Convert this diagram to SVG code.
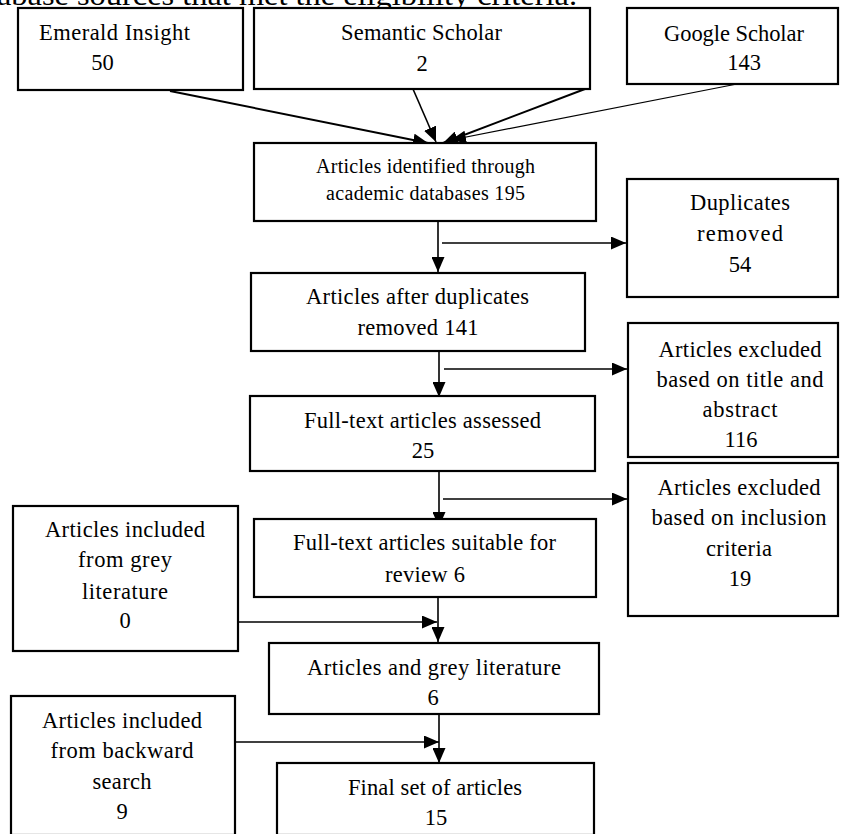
<svg xmlns="http://www.w3.org/2000/svg" width="841" height="834" viewBox="0 0 841 834">
<defs>
<style>
.box{fill:#fff;stroke:#000;stroke-width:2.2}
text{font-family:"Liberation Serif","Times New Roman",serif;fill:#000;font-size:22.5px}
.c{text-anchor:middle}
.sm{font-size:20px}
.ln{fill:none;stroke:#000;stroke-width:1.6}
</style>
<marker id="ah" markerUnits="userSpaceOnUse" markerWidth="15" markerHeight="13" refX="15" refY="6.5" orient="auto">
<path d="M0,0 L15,6.5 L0,13 z" fill="#000"/>
</marker>
</defs>
<rect width="841" height="834" fill="#fff"/>
<text x="-3" y="5" style="font-size:30px" textLength="580" lengthAdjust="spacingAndGlyphs">abase sources that met the eligibility criteria.</text>

<g id="connectors">
<line class="ln" x1="170" y1="91" x2="428" y2="143" style="stroke-width:2" marker-end="url(#ah)"/>
<line class="ln" x1="413" y1="89" x2="436" y2="142" marker-end="url(#ah)"/>
<line class="ln" x1="585" y1="89" x2="443" y2="143" style="stroke-width:2" marker-end="url(#ah)"/>
<line class="ln" x1="737" y1="84" x2="451" y2="140" style="stroke-width:1.2" marker-end="url(#ah)"/>
<line class="ln" x1="438" y1="221" x2="438" y2="272" marker-end="url(#ah)"/>
<line class="ln" x1="442" y1="243" x2="626" y2="243" marker-end="url(#ah)"/>
<line class="ln" x1="439" y1="351" x2="439" y2="397" marker-end="url(#ah)"/>
<line class="ln" x1="444" y1="369" x2="627" y2="369" marker-end="url(#ah)"/>
<line class="ln" x1="439" y1="471" x2="439" y2="527" marker-end="url(#ah)"/>
<line class="ln" x1="443" y1="499" x2="627" y2="499" marker-end="url(#ah)"/>
<line class="ln" x1="438" y1="597" x2="438" y2="642" marker-end="url(#ah)"/>
<line class="ln" x1="238" y1="622" x2="437" y2="622" marker-end="url(#ah)"/>
<line class="ln" x1="439" y1="714" x2="439" y2="763" marker-end="url(#ah)"/>
<line class="ln" x1="235" y1="742" x2="439" y2="742" marker-end="url(#ah)"/>
</g>

<g id="emerald">
<rect class="box" x="18" y="8" width="225" height="82"/>
<text x="39" y="40" textLength="151">Emerald Insight</text>
<text x="102.5" y="70" class="c">50</text>
</g>
<g id="semantic">
<rect class="box" x="254" y="8" width="336" height="81"/>
<text x="421.5" y="40" class="c" textLength="161">Semantic Scholar</text>
<text x="422" y="71" class="c">2</text>
</g>
<g id="google">
<rect class="box" x="627" y="8" width="211" height="76"/>
<text x="734" y="41" class="c" textLength="140">Google Scholar</text>
<text x="744" y="70" class="c">143</text>
</g>
<g id="identified">
<rect class="box" x="254" y="143" width="342" height="78"/>
<text x="425.5" y="173" class="c sm" textLength="219">Articles identified through</text>
<text x="425.5" y="200" class="c sm" textLength="199">academic databases 195</text>
</g>
<g id="duplicates">
<rect class="box" x="627" y="179" width="211" height="118"/>
<text x="740" y="210" class="c" textLength="100">Duplicates</text>
<text x="740" y="241" class="c" textLength="86">removed</text>
<text x="740" y="272" class="c">54</text>
</g>
<g id="afterdup">
<rect class="box" x="251" y="273" width="334" height="78"/>
<text x="417.5" y="304" class="c" textLength="223">Articles after duplicates</text>
<text x="418" y="335" class="c" textLength="121">removed 141</text>
</g>
<g id="assessed">
<rect class="box" x="250" y="396" width="345" height="75"/>
<text x="422.5" y="428" class="c" textLength="237">Full-text articles assessed</text>
<text x="423" y="458" class="c">25</text>
</g>
<g id="excl-title">
<rect class="box" x="628" y="323" width="210" height="134"/>
<text x="740" y="357" class="c" textLength="163">Articles excluded</text>
<text x="740" y="387" class="c" textLength="167">based on title and</text>
<text x="740" y="417" class="c" textLength="75">abstract</text>
<text x="741" y="447" class="c">116</text>
</g>
<g id="excl-incl">
<rect class="box" x="628" y="463" width="210" height="153"/>
<text x="739" y="495" class="c" textLength="163">Articles excluded</text>
<text x="739" y="525" class="c" textLength="175">based on inclusion</text>
<text x="739" y="556" class="c" textLength="66">criteria</text>
<text x="740" y="586" class="c">19</text>
</g>
<g id="suitable">
<rect class="box" x="254" y="519" width="342" height="78"/>
<text x="424.5" y="550" class="c" textLength="263">Full-text articles suitable for</text>
<text x="425" y="582" class="c" textLength="80">review 6</text>
</g>
<g id="grey">
<rect class="box" x="13" y="506" width="225" height="145"/>
<text x="125" y="537" class="c" textLength="160">Articles included</text>
<text x="125" y="567" class="c" textLength="94">from grey</text>
<text x="125" y="599" class="c" textLength="86">literature</text>
<text x="125" y="628" class="c">0</text>
</g>
<g id="artgrey">
<rect class="box" x="269" y="643" width="330" height="71"/>
<text x="434" y="675" class="c" textLength="254">Articles and grey literature</text>
<text x="433" y="705" class="c">6</text>
</g>
<g id="backward">
<rect class="box" x="11" y="696" width="224" height="139"/>
<text x="122" y="728" class="c" textLength="160">Articles included</text>
<text x="122" y="758" class="c" textLength="143">from backward</text>
<text x="122" y="789" class="c" textLength="59">search</text>
<text x="122" y="819" class="c">9</text>
</g>
<g id="final">
<rect class="box" x="277" y="763" width="317" height="72"/>
<text x="435" y="795" class="c" textLength="174">Final set of articles</text>
<text x="436" y="825" class="c">15</text>
</g>
</svg>
